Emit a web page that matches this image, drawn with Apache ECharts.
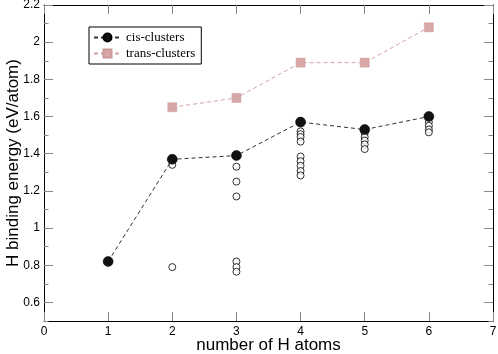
<!DOCTYPE html>
<html>
<head>
<meta charset="utf-8">
<script src="https://cdn.jsdelivr.net/npm/echarts@6/dist/echarts.min.js"></script>
<style>
html,body{margin:0;padding:0;background:#fff;}
#main{width:498px;height:354px;}
</style>
</head>
<body>
<div id="main"></div>
<script>
// lowest-energy structures
var cisX = [1, 2, 3, 4, 5, 6];
var cisY = [0.82, 1.37, 1.39, 1.57, 1.53, 1.60];
var transX = [2, 3, 4, 5, 6];
var transY = [1.65, 1.70, 1.89, 1.89, 2.08];
// other isomers (open circles)
var isoX = [2, 2, 3, 3, 3, 3, 3, 3,
    4, 4, 4, 4, 4, 4, 4, 4, 4,
    5, 5, 5, 5, 5,
    6, 6, 6, 6];
var isoY = [1.34, 0.79, 1.33, 1.25, 1.17, 0.82, 0.79, 0.765,
    1.52, 1.505, 1.49, 1.465, 1.385, 1.36, 1.335, 1.307, 1.283,
    1.51, 1.49, 1.47, 1.45, 1.425,
    1.57, 1.55, 1.53, 1.515];
var yMajor = [0.6, 0.8, 1, 1.2, 1.4, 1.6, 1.8, 2, 2.2];

function pairs(xs, ys){
    var out = [];
    for (var i = 0; i < xs.length; i++) out.push([xs[i], ys[i]]);
    return out;
}

var chart = echarts.init(document.getElementById('main'));
var tickGray = '#888';
var sans = 'Liberation Sans';

function yAx(pos, major, withLabel){
    return {
        type: 'value', position: pos, offset: 0, min: 0.5, max: 2.2,
        interval: major ? undefined : 0.1,
        splitLine: {show: false},
        axisLine: {show: major, onZero: false, lineStyle: {color: '#000', width: 1}},
        axisTick: major ? {show: true, inside: true, length: 9, lineStyle: {color: tickGray}, customValues: yMajor}
                        : {show: true, inside: true, length: 4.5, lineStyle: {color: tickGray}},
        axisLabel: withLabel ? {show: true, customValues: yMajor, color: '#000', fontFamily: sans, fontSize: 12, margin: 4}
                             : {show: false},
        name: withLabel ? 'H binding energy (eV/atom)' : '',
        nameLocation: 'middle', nameGap: 22, nameMoveOverlap: false,
        nameTextStyle: {fontFamily: sans, fontSize: 17, color: '#000'}
    };
}

var option = {
    animation: false,
    backgroundColor: '#fff',
    grid: {left: 44, right: 5, top: 5, bottom: 33, containLabel: false, outerBoundsMode: 'none'},
    legend: {
        left: 89, top: 27, orient: 'vertical',
        data: ['cis-clusters', 'trans-clusters'],
        padding: [4, 6, 4, 4], itemGap: 3, itemWidth: 27, itemHeight: 10,
        borderColor: '#000', borderWidth: 1,
        textStyle: {fontFamily: 'Liberation Serif', fontSize: 13, color: '#000'}
    },
    xAxis: [{
        type: 'value', position: 'bottom', min: 0, max: 7, interval: 1,
        splitLine: {show: false},
        axisLine: {onZero: false, lineStyle: {color: '#000'}},
        axisTick: {inside: true, length: 9, lineStyle: {color: tickGray}},
        axisLabel: {color: '#000', fontFamily: sans, fontSize: 12, margin: 5},
        name: 'number of H atoms', nameLocation: 'middle', nameGap: 16, nameMoveOverlap: false,
        nameTextStyle: {fontFamily: sans, fontSize: 17, color: '#000'}
    }, {
        type: 'value', position: 'top', min: 0, max: 7, interval: 1,
        splitLine: {show: false},
        axisLine: {onZero: false, lineStyle: {color: '#000'}},
        axisTick: {inside: true, length: 9, lineStyle: {color: tickGray}},
        axisLabel: {show: false}
    }],
    yAxis: [yAx('left', true, true), yAx('left', false, false), yAx('right', true, false), yAx('right', false, false)],
    series: [{
        name: 'isomers', type: 'scatter', data: pairs(isoX, isoY),
        symbol: 'circle', symbolSize: 7, z: 2,
        itemStyle: {color: '#fff', borderColor: '#000', borderWidth: 1}
    }, {
        name: 'trans-clusters', type: 'line', data: pairs(transX, transY),
        symbol: 'rect', symbolSize: 9, z: 3,
        lineStyle: {color: '#d2a2a2', width: 1, type: [4, 3]},
        itemStyle: {color: '#d8a8a8', borderColor: '#c99898', borderWidth: 0.5}
    }, {
        name: 'cis-clusters', type: 'line', data: pairs(cisX, cisY),
        symbol: 'circle', symbolSize: 10, z: 4,
        lineStyle: {color: '#333', width: 1, type: [4, 3]},
        itemStyle: {color: '#111', borderColor: '#000', borderWidth: 0.5}
    }]
};
chart.setOption(option);
</script>
</body>
</html>
